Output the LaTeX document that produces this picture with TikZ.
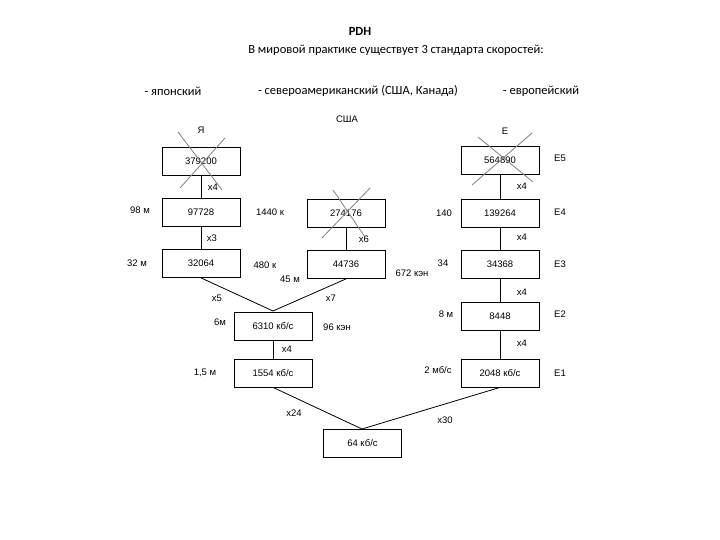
\documentclass[tikz,border=0pt]{standalone}
\usepackage{fontspec}
\setmainfont{Liberation Sans}
\newfontfamily\titlefont{Carlito}
\begin{document}
\begin{tikzpicture}[x=1pt,y=-1pt,
  bx/.style={draw,line width=0.8pt,minimum width=78pt,minimum height=28pt,inner sep=0pt,font=\fontsize{9.5}{10}\selectfont},
  lb/.style={font=\fontsize{9.5}{10}\selectfont,inner sep=0pt},
  tt/.style={font=\titlefont\fontsize{12.5}{14}\selectfont,inner sep=0pt},
  ln/.style={line width=0.8pt},
  cr/.style={gray,line width=0.8pt}]
\useasboundingbox (0,0) rectangle (720,540);
\node[tt,font=\titlefont\bfseries\fontsize{12.5}{14}\selectfont] (t) at (360,31) {PDH};
\node[tt] (s) at (396,50) {В мировой практике существует 3 стандарта скоростей:};
\node[tt] (j) at (173,91) {- японский};
\node[tt] (na) at (358,91) {- североамериканский (США, Канада)};
\node[tt] (eu) at (541,91) {- европейский};

\node[bx] (a1) at (201,161) {379200};
\node[bx] (a2) at (201,212) {97728};
\node[bx] (a3) at (201,263.5) {32064};
\node[bx] (b1) at (346,213.5) {274176};
\node[bx] (b2) at (346,264.5) {44736};
\node[bx] (e5) at (500,160) {564890};
\node[bx] (e4) at (500,213) {139264};
\node[bx] (e3) at (500,264) {34368};
\node[bx] (e2) at (500,316) {8448};
\node[bx] (e1) at (500,373) {2048 кб/с};
\node[bx] (c1) at (273,326) {6310 кб/с};
\node[bx] (c2) at (273,373) {1554 кб/с};
\node[bx] (d) at (362.5,443) {64 кб/с};

\draw[ln] (a1) -- (a2);
\draw[ln] (a2) -- (a3);
\draw[ln] (b1) -- (b2);
\draw[ln] (e5) -- (e4);
\draw[ln] (e4) -- (e3);
\draw[ln] (e3) -- (e2);
\draw[ln] (e2) -- (e1);
\draw[ln] (c1) -- (c2);
\coordinate (m1) at (273,311);
\draw[ln] (a3.south) -- (m1);
\draw[ln] (b2.south) -- (m1);
\coordinate (m2) at (362,429);
\draw[ln] (c2.south) -- (m2);
\draw[ln] (e1.south) -- (m2);

\coordinate (x1a) at (178,132); \coordinate (x1b) at (222,190);
\coordinate (x1c) at (225,138); \coordinate (x1d) at (180,188);
\draw[cr] (x1a) -- (x1b); \draw[cr] (x1c) -- (x1d);
\coordinate (x2a) at (333,190); \coordinate (x2b) at (365,237);
\coordinate (x2c) at (370,188); \coordinate (x2d) at (322,238);
\draw[cr] (x2a) -- (x2b); \draw[cr] (x2c) -- (x2d);
\coordinate (x3a) at (478,137); \coordinate (x3b) at (533,182);
\coordinate (x3c) at (532,133); \coordinate (x3d) at (472,185);
\draw[cr] (x3a) -- (x3b); \draw[cr] (x3c) -- (x3d);

\node[lb] (l1) at (201,130) {Я};
\node[lb] (l2) at (347,119) {США};
\node[lb] (l3) at (505,131) {Е};
\node[lb] (l4) at (213,187) {x4};
\node[lb] (l5) at (140,210) {98 м};
\node[lb] (l6) at (270,212) {1440 к};
\node[lb] (l7) at (212,238) {x3};
\node[lb] (l8) at (137,263) {32 м};
\node[lb] (l9) at (265,265) {480 к};
\node[lb] (l10) at (364,239) {x6};
\node[lb] (l11) at (290,279) {45 м};
\node[lb] (l12) at (412,273) {672 кэн};
\node[lb] (l13) at (217,298) {x5};
\node[lb] (l14) at (331,298) {x7};
\node[lb] (l15) at (220,322) {6м};
\node[lb] (l16) at (337,327) {96 кэн};
\node[lb] (l17) at (287,349) {x4};
\node[lb] (l18) at (205,373) {1,5 м};
\node[lb] (l19) at (294,413) {x24};
\node[lb] (l20) at (445,420) {x30};
\node[lb] (l21) at (444,213) {140};
\node[lb] (l22) at (560,212) {E4};
\node[lb] (l23) at (522,186) {x4};
\node[lb] (l24) at (560,158) {E5};
\node[lb] (l25) at (522,237) {x4};
\node[lb] (l26) at (443,263) {34};
\node[lb] (l27) at (560,264) {E3};
\node[lb] (l28) at (522,292) {x4};
\node[lb] (l29) at (446,314) {8 м};
\node[lb] (l30) at (560,314) {E2};
\node[lb] (l31) at (522,343) {x4};
\node[lb] (l32) at (438,370) {2 мб/с};
\node[lb] (l33) at (560,373) {E1};
\end{tikzpicture}
\end{document}
